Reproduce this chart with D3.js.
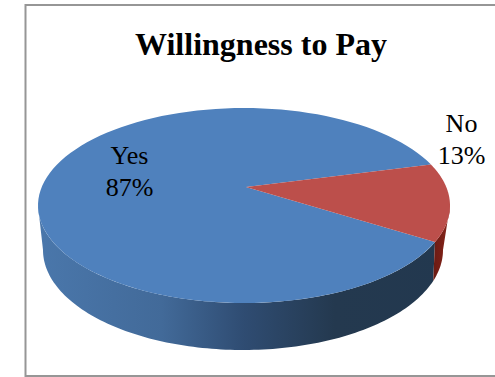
<!DOCTYPE html>
<html>
<head>
<meta charset="utf-8">
<style>html,body{margin:0;padding:0;background:#fff}svg{display:block}</style>
<script src="https://cdn.jsdelivr.net/npm/d3@7/dist/d3.min.js"></script>
</head>
<body>
<svg id="chart" width="495" height="377"></svg>
<script>
const categories = ["Yes", "No"];
const values = [87, 13];
const topColors = ["#4f81bd", "#bc4f4b"];

const W = 495, H = 377;
const frame = {x: 25.5, y: 5, w: 520, h: 371};
const top3d = {cx: 244, cy: 205.5, rx: 206, ry: 97.5, apexX: 246, apexY: 187};
const bottom3d = {cx: 243, cy: 250, rx: 200, ry: 100};

const svg = d3.select("#chart");
const defs = svg.append("defs");

function sideGradient(id, stops) {
  const g = defs.append("linearGradient").attr("id", id)
    .attr("gradientUnits", "userSpaceOnUse")
    .attr("x1", top3d.cx - top3d.rx).attr("x2", top3d.cx + top3d.rx)
    .attr("y1", 0).attr("y2", 0);
  stops.forEach(([o, c]) => g.append("stop").attr("offset", o).attr("stop-color", c));
}
sideGradient("sideBlue", [[0, "#4a77ab"], [0.3, "#426a99"], [0.5, "#2f4c72"], [0.72, "#24394f"], [1, "#22384f"]]);
sideGradient("sideRed", [[0.94, "#5a1710"], [0.98, "#7a1f16"], [1, "#8a2a20"]]);

svg.append("rect").attr("width", W).attr("height", H).attr("fill", "#fff");
svg.append("rect")
  .attr("x", frame.x).attr("y", frame.y).attr("width", frame.w).attr("height", frame.h)
  .attr("fill", "#fff").attr("stroke", "#969696").attr("stroke-width", 2);

// Clockwise-from-north angle at which the first slice starts
const startDeg = 112;
const pie = d3.pie().sort(null)
  .startAngle(startDeg * Math.PI / 180)
  .endAngle((startDeg + 360) * Math.PI / 180);
const arcs = pie(values);

const onEllipse = (e, a) => [e.cx + e.rx * Math.sin(a), e.cy - e.ry * Math.cos(a)];
const sample = (a0, a1) => d3.range(0, 121).map(i => a0 + (a1 - a0) * i / 120);
const lineGen = d3.line();
const TAU = 2 * Math.PI;
const rad = Math.PI / 180;

// Perspective pulls the seam on the lower rim slightly towards the front
const lowerRimAngle = d3.scaleLinear()
  .domain([90 * rad, startDeg * rad, 270 * rad])
  .range([90 * rad, 108 * rad, 270 * rad]);

// Side wall: only the front half of the rim (angles 90..270 degrees) is visible
function wallPath(a0, a1) {
  const pts = sample(a0, a1);
  return lineGen(pts.map(a => onEllipse(top3d, a))
    .concat(pts.slice().reverse().map(a => onEllipse(bottom3d, lowerRimAngle(a))))) + "Z";
}
const frontStart = Math.PI / 2, frontEnd = 3 * Math.PI / 2;

arcs.forEach((d, i) => {
  // Wrap the slice so that its visible front part can be intersected
  for (const shift of [0, -TAU]) {
    const a0 = Math.max(d.startAngle + shift, frontStart);
    const a1 = Math.min(d.endAngle + shift, frontEnd);
    if (a1 > a0) {
      svg.append("path").attr("d", wallPath(a0, a1))
        .attr("fill", i === 0 ? "url(#sideBlue)" : "url(#sideRed)");
    }
  }
});

// Top faces, fanned from the perspective-shifted apex
arcs.forEach((d, i) => {
  const rim = sample(d.startAngle, d.endAngle).map(a => onEllipse(top3d, a));
  svg.append("path")
    .attr("d", lineGen([[top3d.apexX, top3d.apexY], ...rim]) + "Z")
    .attr("fill", topColors[i]);
});

// Title and data labels
svg.append("text").attr("x", 261).attr("y", 55).attr("text-anchor", "middle")
  .attr("font-family", "'Liberation Serif', serif").attr("font-weight", "bold")
  .attr("font-size", 32).attr("fill", "#000").text("Willingness to Pay");

const labelPos = [[129.5, 164], [461.5, 132]];
categories.forEach((c, i) => {
  const t = svg.append("text").attr("text-anchor", "middle")
    .attr("font-family", "'Liberation Serif', serif").attr("font-size", 26).attr("fill", "#000");
  t.append("tspan").attr("x", labelPos[i][0]).attr("y", labelPos[i][1]).text(c);
  t.append("tspan").attr("x", labelPos[i][0]).attr("y", labelPos[i][1] + 32).text(values[i] + "%");
});
</script>
</body>
</html>
